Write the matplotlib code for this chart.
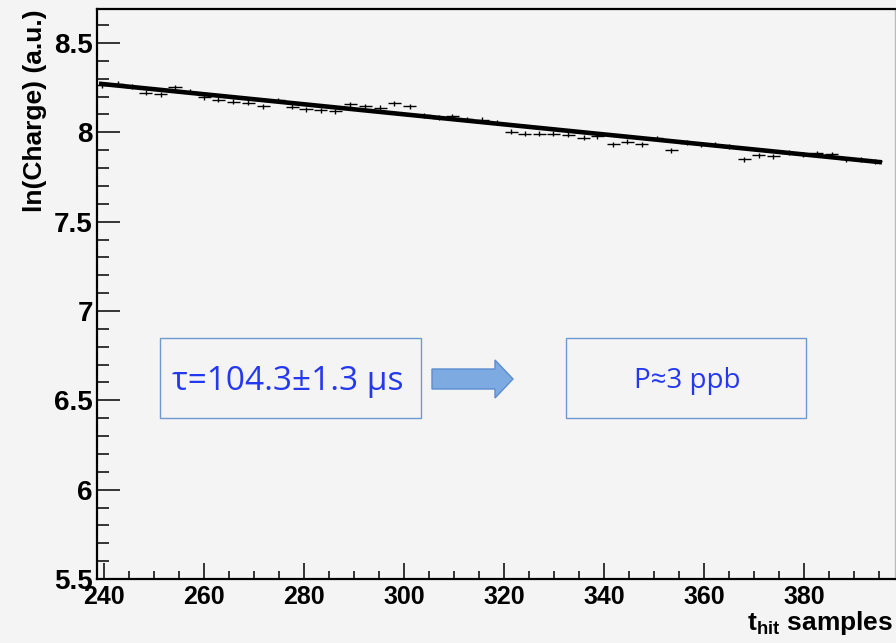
import matplotlib
matplotlib.use('Agg')
import matplotlib.pyplot as plt
from matplotlib import font_manager
from matplotlib.ticker import MultipleLocator, FixedLocator
from matplotlib.patches import Rectangle, FancyArrow

# measured hits: t_hit (samples) and ln(charge)
t_hit = [239.5, 242.7, 245.5, 248.3, 251.3, 254.2, 257.2, 260.0, 262.8, 265.8,
         268.8, 271.8, 274.8, 277.6, 280.4, 283.3, 286.2, 289.2, 292.2, 295.2,
         298.0, 301.1, 304.0, 306.9, 309.6, 312.5, 315.6, 318.5, 321.4, 324.1,
         327.0, 329.8, 332.8, 335.9, 338.6, 341.8, 344.6, 347.5, 350.5, 353.4,
         356.5, 359.3, 362.2, 365.0, 368.0, 370.9, 373.8, 376.9, 379.7, 382.5,
         385.5, 388.4, 391.3, 394.2]
ln_q = [8.263, 8.273, 8.255, 8.220, 8.213, 8.251, 8.226, 8.195, 8.183, 8.170,
        8.164, 8.147, 8.179, 8.142, 8.129, 8.123, 8.118, 8.157, 8.147, 8.137,
        8.163, 8.147, 8.095, 8.082, 8.091, 8.072, 8.071, 8.053, 8.002, 7.992,
        7.992, 7.992, 7.987, 7.969, 7.979, 7.933, 7.946, 7.932, 7.966, 7.899,
        7.941, 7.933, 7.929, 7.918, 7.849, 7.871, 7.867, 7.886, 7.878, 7.884,
        7.877, 7.848, 7.846, 7.837]
t_err = 1.3
q_err = 0.014

# exponential fit (straight line in ln)
fit_x = [239.0, 395.6]
fit_y = [8.272, 7.832]

tau_text = "τ=104.3±1.3 μs"
purity_text = "P≈3 ppb"

# ROOT-like tick font (narrow bold if available)
names = {f.name for f in font_manager.fontManager.ttflist}
xtick_font = 'Liberation Sans Narrow' if 'Liberation Sans Narrow' in names else 'Liberation Sans'
xtick_size = 21 if xtick_font == 'Liberation Sans Narrow' else 18

plt.rcParams['mathtext.fontset'] = 'custom'
plt.rcParams['mathtext.bf'] = 'Liberation Sans:bold'
plt.rcParams['mathtext.rm'] = 'Liberation Sans:bold'

bg = '#f4f4f4'
fig = plt.figure(figsize=(8.96, 6.43), dpi=100, facecolor=bg)
ax = fig.add_axes([97/896, 1 - 579/643, 798/896, 570/643], facecolor=bg)

ax.errorbar(t_hit, ln_q, xerr=t_err, yerr=q_err, fmt='none', ecolor='black',
            elinewidth=1.0, capsize=0)
ax.plot(fit_x, fit_y, color='black', lw=3.3, solid_capstyle='butt')

ax.set_xlim(238.6, 398.2)
ax.set_ylim(5.5, 8.69)

ax.xaxis.set_major_locator(FixedLocator([240, 260, 280, 300, 320, 340, 360, 380]))
ax.xaxis.set_minor_locator(MultipleLocator(5))
ax.yaxis.set_minor_locator(MultipleLocator(0.1))
ax.set_yticks([5.5, 6, 6.5, 7, 7.5, 8, 8.5])
ax.set_yticklabels(['5.5', '6', '6.5', '7', '7.5', '8', '8.5'])

ax.tick_params(axis='both', which='both', direction='in', top=False, right=False,
               width=1.1, color='black')
ax.tick_params(axis='y', which='major', length=16.5, pad=3)
ax.tick_params(axis='y', which='minor', length=8.4)
ax.tick_params(axis='x', which='major', length=11.5, pad=4)
ax.tick_params(axis='x', which='minor', length=5.8)

for lab in ax.get_xticklabels():
    lab.set_fontfamily(xtick_font)
    lab.set_fontweight('bold')
    lab.set_fontsize(xtick_size)
for lab in ax.get_yticklabels():
    lab.set_fontfamily('Liberation Sans')
    lab.set_fontweight('bold')
    lab.set_fontsize(20)

for side in ['left', 'bottom', 'top']:
    ax.spines[side].set_linewidth(1.6)
    ax.spines[side].set_color('black')
ax.spines['right'].set_color('#bbbbbb')
ax.spines['right'].set_linewidth(1.0)

ax.set_ylabel('ln(Charge) (a.u.)', fontfamily='Liberation Sans', fontweight='bold',
              fontsize=19, loc='top')
ax.yaxis.set_label_coords(-0.063, 1.0)
ax.set_xlabel(r'$\mathbf{t}_{\mathbf{hit}}$ samples', fontfamily='Liberation Sans',
              fontweight='bold', fontsize=19, loc='right')
ax.xaxis.set_label_coords(0.998, -0.052)

# annotation boxes
box_col = '#6f9ad0'
txt_col = '#2438f0'
fig.add_artist(Rectangle((160/896, 1 - 418/643), 261/896, 80/643, transform=fig.transFigure,
                         facecolor=bg, edgecolor=box_col, lw=1.0))
fig.add_artist(Rectangle((566/896, 1 - 418/643), 240/896, 80/643, transform=fig.transFigure,
                         facecolor=bg, edgecolor=box_col, lw=1.0))
fig.text(288/896, 1 - 381/643, tau_text, color=txt_col, fontsize=24,
         family=['Open Sans', 'DejaVu Sans'], ha='center', va='center')
fig.text(687/896, 1 - 381/643, purity_text, color=txt_col, fontsize=20,
         family=['Open Sans', 'DejaVu Sans'], ha='center', va='center')

fig.add_artist(FancyArrow(432/896, 1 - 379/643, 81/896, 0, width=20/643,
                          head_width=38/643, head_length=18/896,
                          length_includes_head=True, transform=fig.transFigure,
                          facecolor='#7eaae2', edgecolor='#5b8dcf', lw=1.0))

fig.savefig('out.png', dpi=100, facecolor=bg)
